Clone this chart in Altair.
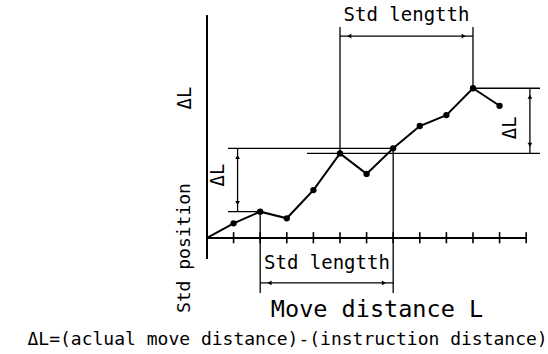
import altair as alt
import pandas as pd

# ---- data (in tick units) ----
step = [0, 1, 2, 3, 4, 5, 6, 7, 8, 9, 10, 11]
position = [0, 0.55, 0.99, 0.74, 1.80, 3.18, 2.41, 3.37, 4.21, 4.62, 5.63, 4.97]
tick_pos = [1, 2, 3, 4, 5, 6, 7, 8, 9, 10, 11, 12]

# annotation geometry (data units)
seg_x = [0.0, 0.0, 0.79, 3.76, 10, 0.79, 5, 10, 2, 7]
seg_x2 = [0.0, 12.0, 7, 12.52, 12.52, 2, 5, 10, 2, 7]
seg_y = [8.38, 0, 3.37, 3.18, 5.63, 0.99, 3.18, 5.63, 0.99, 3.37]
seg_y2 = [-0.79, 0, 3.37, 3.18, 5.63, 0.99, 7.93, 7.93, -2.07, -2.07]
seg_w = [2, 2, 1.3, 1.3, 1.3, 1.3, 1.3, 1.3, 1.3, 1.3]

dim_x = [12.14, 1.15, 5, 2]
dim_x2 = [12.14, 1.15, 10, 7]
dim_y = [3.18, 0.99, 7.59, -1.69]
dim_y2 = [5.63, 3.37, 7.59, -1.69]

arrow_x = [12.14, 12.14, 1.15, 1.15, 5.35, 9.65, 2.35, 6.65]
arrow_y = [3.5, 5.31, 1.31, 3.05, 7.59, 7.59, -1.69, -1.69]
arrow_shape = ["triangle-down", "triangle-up", "triangle-down", "triangle-up",
               "triangle-left", "triangle-right", "triangle-left", "triangle-right"]

labels = ["Std lengtth", "Std lengtth", "Move distance L",
          "ΔL=(aclual move distance)-(instruction distance)"]
label_x = [7.5, 4.51, 6.39, 3.03]
label_y = [8.38, -0.94, -2.71, -3.83]
label_size = [19, 19, 23.5, 18]

rot_labels = ["Std position", "ΔL", "ΔL", "ΔL"]
rot_x = [-0.83, -0.83, 11.39, 0.41]
rot_y = [-0.38, 5.26, 4.14, 2.37]
rot_size = [18, 19, 19, 19]

FONT = "DejaVu Sans Mono"
xs = alt.Scale(domain=[-7.782, 12.82], nice=False, zero=False)
ys = alt.Scale(domain=[-4.361, 8.947], nice=False, zero=False)

def X(f="x"):
    return alt.X(f"{f}:Q", scale=xs, axis=None)

def Y(f="y"):
    return alt.Y(f"{f}:Q", scale=ys, axis=None)

series = pd.DataFrame({"x": step, "y": position})
ticks = pd.DataFrame({"x": tick_pos, "y": [0.22] * len(tick_pos), "y2": [-0.2] * len(tick_pos)})
segs = pd.DataFrame({"x": seg_x, "x2": seg_x2, "y": seg_y, "y2": seg_y2, "w": seg_w})
dims = pd.DataFrame({"x": dim_x, "x2": dim_x2, "y": dim_y, "y2": dim_y2})
arrows = pd.DataFrame({"x": arrow_x, "y": arrow_y, "s": arrow_shape})
texts = pd.DataFrame({"x": label_x, "y": label_y, "t": labels, "size": label_size})
rtexts = pd.DataFrame({"x": rot_x, "y": rot_y, "t": rot_labels, "size": rot_size})

seg_layer = alt.Chart(segs).mark_rule(color="black").encode(
    x=X(), x2="x2:Q", y=Y(), y2="y2:Q",
    strokeWidth=alt.StrokeWidth("w:Q", scale=None, legend=None))
tick_layer = alt.Chart(ticks).mark_rule(color="black", strokeWidth=1.6).encode(
    x=X(), y=Y(), y2="y2:Q")
dim_layer = alt.Chart(dims).mark_rule(color="black", strokeWidth=1.3).encode(
    x=X(), x2="x2:Q", y=Y(), y2="y2:Q")
arrow_layer = alt.Chart(arrows).mark_point(filled=True, color="black", size=22, opacity=1).encode(
    x=X(), y=Y(), shape=alt.Shape("s:N", scale=None, legend=None))
line_layer = alt.Chart(series).mark_line(color="black", strokeWidth=2).encode(x=X(), y=Y())
pt_layer = alt.Chart(series.iloc[1:]).mark_circle(color="black", size=40, opacity=1).encode(x=X(), y=Y())
text_layer = alt.Chart(texts).mark_text(font=FONT, color="black", align="center", baseline="middle").encode(
    x=X(), y=Y(), text="t:N", size=alt.Size("size:Q", scale=None, legend=None))
rtext_layer = alt.Chart(rtexts).mark_text(font=FONT, color="black", align="center", baseline="middle", angle=270).encode(
    x=X(), y=Y(), text="t:N", size=alt.Size("size:Q", scale=None, legend=None))

chart = alt.layer(seg_layer, tick_layer, dim_layer, arrow_layer, line_layer, pt_layer,
                  text_layer, rtext_layer).properties(
    width=548, height=354, padding=0, autosize=alt.AutoSizeParams(type="none"),
    background="white"
).configure_view(stroke=None)

chart.save("out.html", embed_options={"renderer": "svg", "actions": False})
